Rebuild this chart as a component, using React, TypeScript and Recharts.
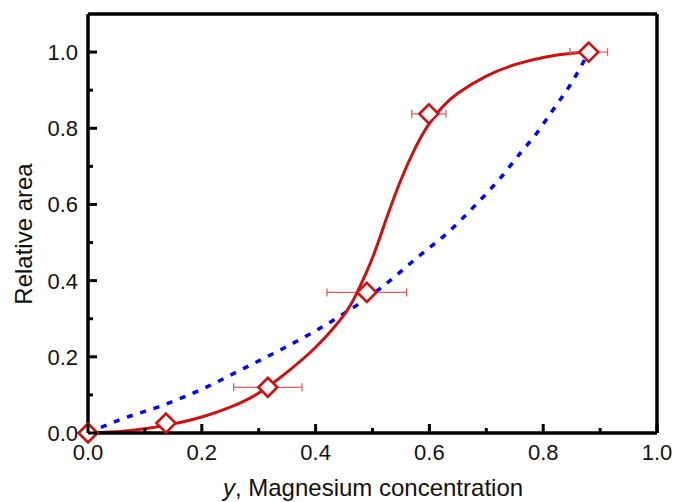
import React from 'react';
import { ComposedChart, Line, Scatter, XAxis, YAxis, ErrorBar, Customized } from 'recharts';

// ---- data ----
const tickValues = [0, 0.1, 0.2, 0.3, 0.4, 0.5, 0.6, 0.7, 0.8, 0.9, 1.0];
const majorTickLabels = ['0.0', '0.2', '0.4', '0.6', '0.8', '1.0'];

const measuredX = [0, 0.137, 0.316, 0.49, 0.599, 0.88];
const measuredY = [0, 0.026, 0.12, 0.369, 0.838, 1.0];
const measuredXErr = [0, 0.007, 0.06, 0.07, 0.03, 0.033];

const fitX = [0, 0.05, 0.1, 0.15, 0.2, 0.25, 0.3, 0.35, 0.4, 0.45, 0.475, 0.5, 0.525, 0.55, 0.575, 0.6, 0.625, 0.65, 0.7, 0.75, 0.8, 0.85, 0.88];
const fitY = [0, 0.003, 0.011, 0.024, 0.042, 0.068, 0.105, 0.16, 0.225, 0.31, 0.375, 0.46, 0.565, 0.665, 0.748, 0.813, 0.859, 0.892, 0.937, 0.967, 0.986, 0.997, 1.0];

const modelX = [0, 0.062, 0.132, 0.203, 0.273, 0.343, 0.402, 0.513, 0.583, 0.633, 0.68, 0.724, 0.762, 0.783, 0.818, 0.85, 0.88];
const modelY = [0, 0.038, 0.073, 0.117, 0.169, 0.222, 0.27, 0.379, 0.466, 0.527, 0.597, 0.668, 0.739, 0.776, 0.85, 0.92, 1.0];

const measured = measuredX.map((x, i) => ({ x, y: measuredY[i], xErr: measuredXErr[i] }));
const fitCurve = fitX.map((x, i) => ({ x, y: fitY[i] }));
const modelCurve = modelX.map((x, i) => ({ x, y: modelY[i] }));

const RED = '#cc1111';
const FONT = '"Liberation Sans", Arial, sans-serif';
const TEXT = '#111';

const isMajor = (v: number) => Math.round(v * 10) % 2 === 0;
const labelFor = (v: number) => majorTickLabels[Math.round(v * 5)];

const BottomTick = (props: any) => {
  const { x, y, payload } = props;
  const v = payload.value as number;
  const major = isMajor(v);
  return (
    <g>
      <line x1={x} x2={x} y1={y} y2={y - (major ? 9 : 5)} stroke="#000" strokeWidth={3} />
      {major && (
        <text x={x} y={y + 27} textAnchor="middle" fontSize={22} fontFamily={FONT} fill={TEXT}>
          {labelFor(v)}
        </text>
      )}
    </g>
  );
};

const TopTick = (props: any) => {
  const { x, y, payload } = props;
  const major = isMajor(payload.value);
  return <line x1={x} x2={x} y1={y} y2={y + (major ? 9 : 5)} stroke="#000" strokeWidth={3} />;
};

const LeftTick = (props: any) => {
  const { x, y, payload } = props;
  const v = payload.value as number;
  const major = isMajor(v);
  return (
    <g>
      <line x1={x} x2={x + (major ? 9 : 5)} y1={y} y2={y} stroke="#000" strokeWidth={3} />
      {major && (
        <text x={x - 10} y={y} dy="0.36em" textAnchor="end" fontSize={22} fontFamily={FONT} fill={TEXT}>
          {labelFor(v)}
        </text>
      )}
    </g>
  );
};

const RightTick = (props: any) => {
  const { x, y, payload } = props;
  const major = isMajor(payload.value);
  return <line x1={x} x2={x - (major ? 9 : 5)} y1={y} y2={y} stroke="#000" strokeWidth={3} />;
};

const Diamond = (props: any) => {
  const { cx, cy } = props;
  const r = 9.5;
  return (
    <polygon
      points={`${cx},${cy - r} ${cx + r},${cy} ${cx},${cy + r} ${cx - r},${cy}`}
      fill="#fff"
      stroke={RED}
      strokeWidth={2.6}
    />
  );
};

const AxisTitles = () => (
  <g fontFamily={FONT} fill={TEXT}>
    <text x={373} y={496} textAnchor="middle" fontSize={24}>
      <tspan fontStyle="italic">y</tspan>, Magnesium concentration
    </text>
    <text x={32} y={234} transform="rotate(-90 32 234)" textAnchor="middle" fontSize={24}>
      Relative area
    </text>
  </g>
);

export default function App() {
  return (
    <div style={{ position: 'absolute', left: 0, top: 0 }}>
      <ComposedChart width={675} height={502} margin={{ top: 0, right: 0, bottom: 0, left: 0 }}>
        <XAxis
          xAxisId="bottom"
          type="number"
          dataKey="x"
          domain={[0, 1]}
          ticks={tickValues}
          interval={0}
          orientation="bottom"
          height={69}
          tickSize={0}
          tickMargin={0}
          tickLine={false}
          axisLine={{ stroke: '#000', strokeWidth: 3.5 }}
          tick={<BottomTick />}
        />
        <XAxis
          xAxisId="top"
          type="number"
          dataKey="x"
          domain={[0, 1]}
          ticks={tickValues}
          interval={0}
          orientation="top"
          height={14}
          tickSize={0}
          tickMargin={0}
          tickLine={false}
          axisLine={{ stroke: '#000', strokeWidth: 3.5 }}
          tick={<TopTick />}
        />
        <YAxis
          yAxisId="left"
          type="number"
          domain={[0, 1.1]}
          ticks={tickValues}
          interval={0}
          orientation="left"
          width={88}
          tickSize={0}
          tickMargin={0}
          tickLine={false}
          axisLine={{ stroke: '#000', strokeWidth: 3.5 }}
          tick={<LeftTick />}
        />
        <YAxis
          yAxisId="right"
          type="number"
          domain={[0, 1.1]}
          ticks={tickValues}
          interval={0}
          orientation="right"
          width={18}
          tickSize={0}
          tickMargin={0}
          tickLine={false}
          axisLine={{ stroke: '#000', strokeWidth: 3.5 }}
          tick={<RightTick />}
        />
        <Line
          xAxisId="bottom"
          yAxisId="left"
          data={modelCurve}
          dataKey="y"
          type="monotone"
          stroke="#0000ff"
          strokeWidth={3.5}
          strokeDasharray="6 8"
          dot={false}
          activeDot={false}
          isAnimationActive={false}
        />
        <Line
          xAxisId="bottom"
          yAxisId="left"
          data={fitCurve}
          dataKey="y"
          type="natural"
          stroke={RED}
          strokeWidth={3}
          dot={false}
          activeDot={false}
          isAnimationActive={false}
        />
        <Scatter
          xAxisId="bottom"
          yAxisId="left"
          data={measured}
          dataKey="y"
          shape={<Diamond />}
          isAnimationActive={false}
        >
          <ErrorBar dataKey="xErr" direction="x" width={4} strokeWidth={1.3} stroke="#e06060" />
        </Scatter>
        <Customized component={<AxisTitles />} />
      </ComposedChart>
    </div>
  );
}
